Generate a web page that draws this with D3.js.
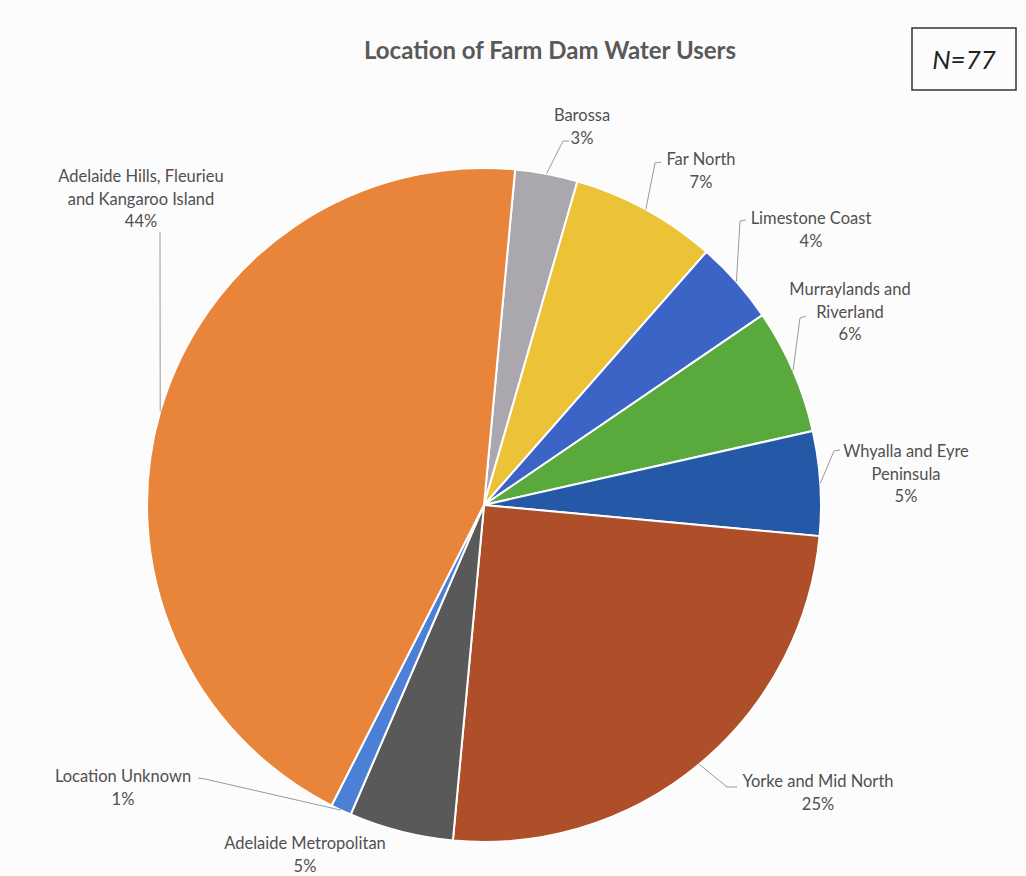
<!DOCTYPE html>
<html>
<head>
<meta charset="utf-8">
<script src="https://cdn.jsdelivr.net/npm/d3@7"></script>
<style>
  body { margin: 0; background: #fdfcfc; }
  svg { display: block; font-family: Lato, "Open Sans", sans-serif; }
</style>
</head>
<body>
<svg id="chart" width="1026" height="876"></svg>
<script>
// --- data (clockwise from top) ---
const regions = [
  ["Barossa"],
  ["Far North"],
  ["Limestone Coast"],
  ["Murraylands and", "Riverland"],
  ["Whyalla and Eyre", "Peninsula"],
  ["Yorke and Mid North"],
  ["Adelaide Metropolitan"],
  ["Location Unknown"],
  ["Adelaide Hills, Fleurieu", "and Kangaroo Island"]
];
const shares = [3, 7, 4, 6, 5, 25, 5, 1, 44];
const colors = ["#aaa8ae", "#ecc236", "#3c64c6", "#5aa93c", "#2559a8", "#ae4f29", "#595959", "#4c80d6", "#e8853b"];

// label layout: text centre x, first line y, leader elbow (null = none)
const labelLayout = [
  { x: 582, y: 121, elbow: [563, 141, 569, 141] },
  { x: 701, y: 165, elbow: [655, 163, 661, 162] },
  { x: 811, y: 224, elbow: [740, 221, 746, 220] },
  { x: 850, y: 295, elbow: [800, 318, 806, 316] },
  { x: 906, y: 457, elbow: [834, 451, 840, 450] },
  { x: 818, y: 787, elbow: [727, 787, 737, 787] },
  { x: 305, y: 849, elbow: null },
  { x: 123, y: 782, elbow: [205, 779, 198, 778] },
  { x: 141, y: 182, elbow: [160, 232, 160, 232] }
];

const svg = d3.select("#chart");
const cx = 484, cy = 505, r = 337;
const offset = 5.3 * Math.PI / 180;

svg.append("text")
  .attr("x", 550).attr("y", 59)
  .attr("text-anchor", "middle")
  .style("font-size", "24px").style("font-weight", "bold")
  .attr("fill", "#595959")
  .text("Location of Farm Dam Water Users");

svg.append("rect")
  .attr("x", 912).attr("y", 28).attr("width", 104).attr("height", 62)
  .attr("fill", "none").attr("stroke", "#333").attr("stroke-width", 1.5);
svg.append("text")
  .attr("x", 964).attr("y", 69)
  .attr("text-anchor", "middle")
  .style("font-size", "26px").style("font-style", "italic")
  .attr("fill", "#222")
  .text("N=77");

const pie = d3.pie().sort(null).value(d => d)
  .startAngle(offset).endAngle(offset + 2 * Math.PI);
const arcs = pie(shares);
const arc = d3.arc().innerRadius(0).outerRadius(r);
const edge = d3.arc().innerRadius(r).outerRadius(r);

const g = svg.append("g").attr("transform", `translate(${cx},${cy})`);
g.selectAll("path.slice").data(arcs).join("path")
  .attr("class", "slice")
  .attr("d", arc)
  .attr("fill", (d, i) => colors[i])
  .attr("stroke", "#fff").attr("stroke-width", 2);

// leader lines
arcs.forEach((d, i) => {
  const L = labelLayout[i];
  if (!L.elbow) return;
  const p = edge.centroid(d);
  const pts = [[cx + p[0], cy + p[1]], [L.elbow[0], L.elbow[1]], [L.elbow[2], L.elbow[3]]];
  svg.append("path")
    .attr("d", d3.line()(pts))
    .attr("fill", "none").attr("stroke", "#9a9a9a").attr("stroke-width", 1);
});

// labels
arcs.forEach((d, i) => {
  const L = labelLayout[i];
  const lines = regions[i].concat([shares[i] + "%"]);
  const t = svg.append("text")
    .attr("text-anchor", "middle")
    .style("font-size", "16.5px")
    .attr("fill", "#505050");
  lines.forEach((s, k) => {
    t.append("tspan").attr("x", L.x).attr("y", L.y + k * 22.5).text(s);
  });
});
</script>
</body>
</html>
